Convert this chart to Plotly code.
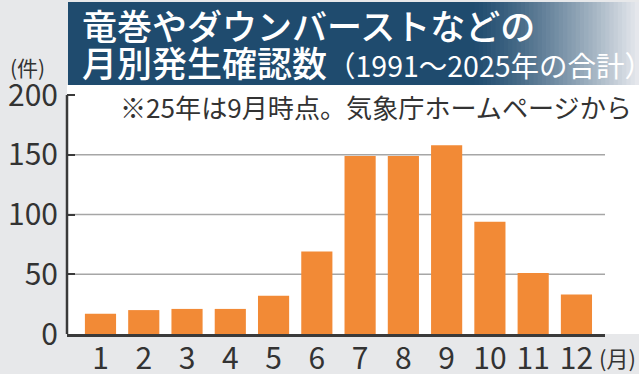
import plotly.graph_objects as go

# ---- data ----
months = [1, 2, 3, 4, 5, 6, 7, 8, 9, 10, 11, 12]
month_labels = ["1", "2", "3", "4", "5", "6", "7", "8", "9", "10", "11", "12"]
counts = [17, 20, 21, 21, 32, 69, 149, 149, 158, 94, 51, 33]
y_ticks = [0, 50, 100, 150, 200]
grid_vals = [50, 100, 150]

title_line1 = "竜巻やダウンバーストなどの"
title_line2_main = "月別発生確認数"
title_line2_sub = "（1991～2025年の合計）"
note_text = "※25年は9月時点。気象庁ホームページから"
y_unit = "(件)"
x_unit = "(月)"

# ---- geometry (pixels) ----
W, H = 639, 374
L, R, T, B = 67, 34, 85, 40
PW = W - L - R
PH = H - T - B

def px(x):
    return (x - L) / PW

def py(y):
    return (H - B - y) / PH

FONT = "Noto Sans CJK JP, Noto Sans JP, Noto Sans, sans-serif"
TXT = "#333333"
BG = "#e7e8ea"
ORANGE = "#f28a36"

fig = go.Figure()
fig.add_trace(go.Bar(
    x=months, y=counts, width=0.72,
    marker=dict(color=ORANGE, line=dict(width=0)),
    hoverinfo="skip",
))

shapes = []
# white panel extension to right edge
shapes.append(dict(type="rect", xref="paper", yref="paper", x0=1, x1=px(W), y0=0, y1=1,
                   fillcolor="white", line=dict(width=0), layer="below"))
# title box with gradient
dark = (0x1f, 0x4b, 0x6e)
light = (0xe8, 0xea, 0xee)
g0, g1 = 470, W
shapes.append(dict(type="rect", xref="paper", yref="paper", x0=px(68), x1=px(g0 + 1),
                   y0=py(85), y1=py(2), fillcolor="rgb(%d,%d,%d)" % dark,
                   line=dict(width=0), layer="above"))
steps = 40
for i in range(steps):
    xa = g0 + (g1 - g0) * i / steps
    xb = g0 + (g1 - g0) * (i + 1) / steps + 0.8
    t = ((i + 0.5) / steps) ** 1.3
    c = tuple(int(round(dark[k] + (light[k] - dark[k]) * t)) for k in range(3))
    shapes.append(dict(type="rect", xref="paper", yref="paper", x0=px(xa), x1=px(xb),
                       y0=py(85), y1=py(2), fillcolor="rgb(%d,%d,%d)" % c,
                       line=dict(width=0), layer="above"))
# gridlines
for v in grid_vals:
    shapes.append(dict(type="line", xref="paper", yref="y", x0=0, x1=1, y0=v, y1=v,
                       line=dict(color="#a6a6a6", width=1.5), layer="below"))
# left axis line up to 200
shapes.append(dict(type="line", xref="paper", yref="y", x0=0, x1=0, y0=0, y1=y_ticks[-1],
                   line=dict(color="#3a3a3a", width=2.5), layer="above"))

annotations = [
    dict(text=title_line1, xref="paper", yref="paper", x=px(80), y=py(24),
         xanchor="left", yanchor="middle", showarrow=False,
         font=dict(family=FONT, size=35, color="white", weight=500)),
    dict(text=title_line2_main + "<span style='font-size:28.5px;font-weight:400'>" + title_line2_sub + "</span>",
         xref="paper", yref="paper", x=px(80), y=py(62),
         xanchor="left", yanchor="middle", showarrow=False,
         font=dict(family=FONT, size=35, color="white", weight=500)),
    dict(text=note_text, xref="paper", yref="paper", x=px(118), y=py(107),
         xanchor="left", yanchor="middle", showarrow=False,
         font=dict(family=FONT, size=26.1, color=TXT)),
    dict(text=y_unit, xref="paper", yref="paper", x=px(27), y=py(67),
         xanchor="center", yanchor="middle", showarrow=False,
         font=dict(family=FONT, size=21, color=TXT)),
    dict(text=x_unit, xref="paper", yref="paper", x=px(617), y=py(357),
         xanchor="center", yanchor="middle", showarrow=False,
         font=dict(family=FONT, size=22, color=TXT)),
]

fig.update_layout(
    template="none",
    width=W, height=H,
    margin=dict(l=L, r=R, t=T, b=B, pad=0, autoexpand=False),
    paper_bgcolor=BG, plot_bgcolor="white",
    showlegend=False,
    shapes=shapes, annotations=annotations,
    xaxis=dict(range=[0.226, 12.66], tickvals=months, ticktext=month_labels,
               automargin=False,
               showgrid=False, zeroline=False, showline=True,
               linecolor="#3a3a3a", linewidth=2.5, ticks="",
               tickfont=dict(family=FONT, size=30, color=TXT),
               ticklabelstandoff=-4, fixedrange=True),
    yaxis=dict(range=[0, 208.4], tickvals=y_ticks, ticktext=[str(v) for v in y_ticks],
               automargin=False,
               showgrid=False, zeroline=False, showline=False,
               ticks="inside", ticklen=8, tickwidth=2, tickcolor="#3a3a3a",
               tickfont=dict(family=FONT, size=30, color=TXT),
               ticklabelstandoff=8, fixedrange=True),
)

fig.write_html("out.html", config={"displayModeBar": False, "staticPlot": True},
               post_script="document.body.style.margin='0';document.body.style.overflow='hidden';")
